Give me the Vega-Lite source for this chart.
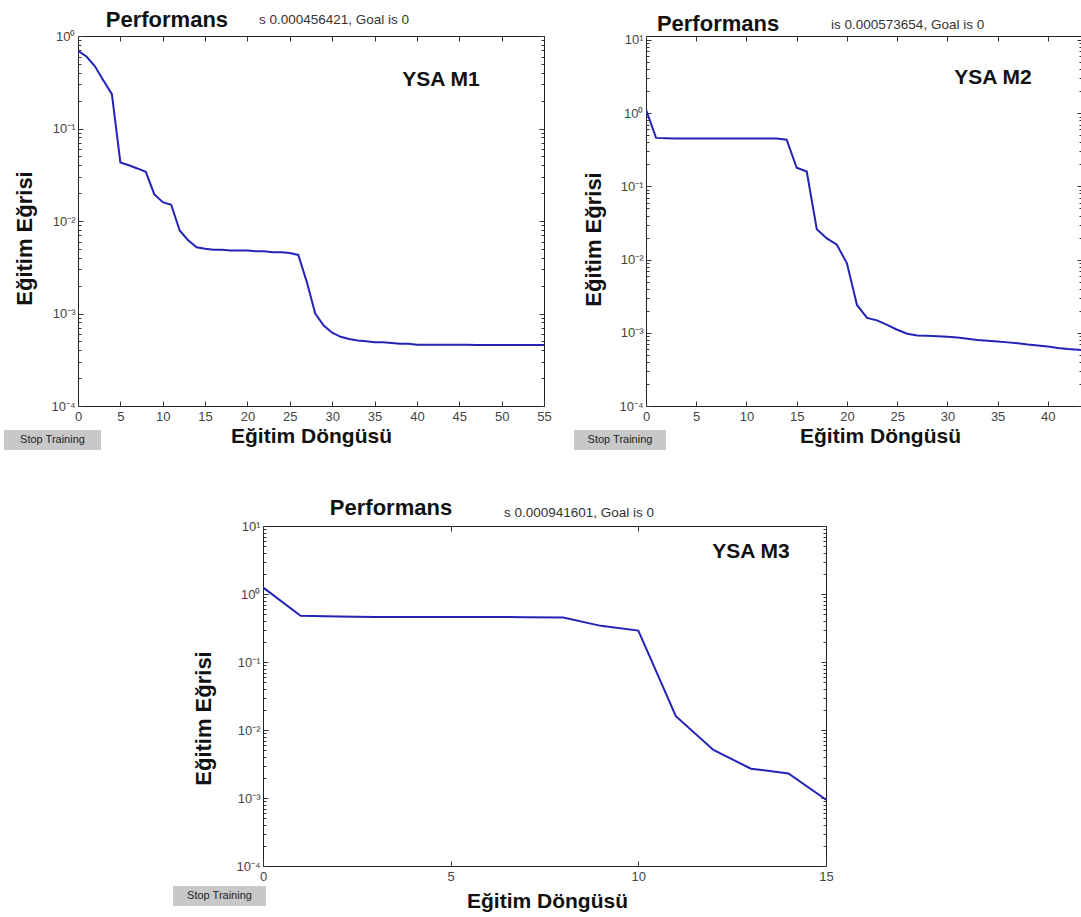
{
  "$schema": "https://vega.github.io/schema/vega-lite/v6.json",
  "background": "white",
  "padding": {"left": 3, "top": 8, "right": 0, "bottom": 0},
  "autosize": {"type": "pad"},
  "bounds": "flush",
  "spacing": 490,
  "config": {
    "view": {"stroke": "#222", "strokeWidth": 1},
    "axis": {"domain": false, "grid": false, "tickColor": "#333", "tickWidth": 1, "labelFont": "Liberation Sans", "labelFontSize": 13, "labelColor": "#444", "labelFlush": false, "labelOverlap": false, "titleFont": "Liberation Sans", "titleFontWeight": "bold", "titleColor": "#111"},
    "text": {"font": "Liberation Sans"}
  },
  "datasets": {
    "p1": [
      {"epoch": 0, "perf": 0.69}, {"epoch": 1, "perf": 0.6}, {"epoch": 2, "perf": 0.47}, {"epoch": 3, "perf": 0.33}, {"epoch": 4, "perf": 0.235},
      {"epoch": 5, "perf": 0.043}, {"epoch": 6, "perf": 0.04}, {"epoch": 7, "perf": 0.037}, {"epoch": 8, "perf": 0.034}, {"epoch": 9, "perf": 0.0195},
      {"epoch": 10, "perf": 0.016}, {"epoch": 11, "perf": 0.015}, {"epoch": 12, "perf": 0.0079}, {"epoch": 13, "perf": 0.0062}, {"epoch": 14, "perf": 0.0052},
      {"epoch": 15, "perf": 0.005}, {"epoch": 16, "perf": 0.0049}, {"epoch": 17, "perf": 0.0049}, {"epoch": 18, "perf": 0.0048}, {"epoch": 19, "perf": 0.0048},
      {"epoch": 20, "perf": 0.0048}, {"epoch": 21, "perf": 0.0047}, {"epoch": 22, "perf": 0.0047}, {"epoch": 23, "perf": 0.0046}, {"epoch": 24, "perf": 0.0046},
      {"epoch": 25, "perf": 0.0045}, {"epoch": 26, "perf": 0.0043}, {"epoch": 27, "perf": 0.0022}, {"epoch": 28, "perf": 0.001}, {"epoch": 29, "perf": 0.00074},
      {"epoch": 30, "perf": 0.00062}, {"epoch": 31, "perf": 0.00056}, {"epoch": 32, "perf": 0.00053}, {"epoch": 33, "perf": 0.00051}, {"epoch": 34, "perf": 0.0005},
      {"epoch": 35, "perf": 0.00049}, {"epoch": 36, "perf": 0.00049}, {"epoch": 37, "perf": 0.00048}, {"epoch": 38, "perf": 0.00047}, {"epoch": 39, "perf": 0.00047},
      {"epoch": 40, "perf": 0.00046}, {"epoch": 41, "perf": 0.00046}, {"epoch": 42, "perf": 0.000459}, {"epoch": 43, "perf": 0.000459}, {"epoch": 44, "perf": 0.000458},
      {"epoch": 45, "perf": 0.000458}, {"epoch": 46, "perf": 0.000458}, {"epoch": 47, "perf": 0.000457}, {"epoch": 48, "perf": 0.000457}, {"epoch": 49, "perf": 0.000457},
      {"epoch": 50, "perf": 0.000457}, {"epoch": 51, "perf": 0.000457}, {"epoch": 52, "perf": 0.000457}, {"epoch": 53, "perf": 0.000456}, {"epoch": 54, "perf": 0.000456},
      {"epoch": 55, "perf": 0.000456421}
    ],
    "p2": [
      {"epoch": 0, "perf": 1.12}, {"epoch": 1, "perf": 0.46}, {"epoch": 2, "perf": 0.455}, {"epoch": 3, "perf": 0.45}, {"epoch": 4, "perf": 0.45},
      {"epoch": 5, "perf": 0.45}, {"epoch": 6, "perf": 0.45}, {"epoch": 7, "perf": 0.45}, {"epoch": 8, "perf": 0.45}, {"epoch": 9, "perf": 0.45},
      {"epoch": 10, "perf": 0.45}, {"epoch": 11, "perf": 0.45}, {"epoch": 12, "perf": 0.45}, {"epoch": 13, "perf": 0.45}, {"epoch": 14, "perf": 0.435},
      {"epoch": 15, "perf": 0.18}, {"epoch": 16, "perf": 0.16}, {"epoch": 17, "perf": 0.026}, {"epoch": 18, "perf": 0.0195}, {"epoch": 19, "perf": 0.016},
      {"epoch": 20, "perf": 0.0089}, {"epoch": 21, "perf": 0.0024}, {"epoch": 22, "perf": 0.0016}, {"epoch": 23, "perf": 0.00148}, {"epoch": 24, "perf": 0.00128},
      {"epoch": 25, "perf": 0.0011}, {"epoch": 26, "perf": 0.00097}, {"epoch": 27, "perf": 0.00092}, {"epoch": 28, "perf": 0.00091}, {"epoch": 29, "perf": 0.0009},
      {"epoch": 30, "perf": 0.00088}, {"epoch": 31, "perf": 0.00086}, {"epoch": 32, "perf": 0.00083}, {"epoch": 33, "perf": 0.0008}, {"epoch": 34, "perf": 0.00078},
      {"epoch": 35, "perf": 0.00076}, {"epoch": 36, "perf": 0.00074}, {"epoch": 37, "perf": 0.00072}, {"epoch": 38, "perf": 0.00069}, {"epoch": 39, "perf": 0.00067},
      {"epoch": 40, "perf": 0.00065}, {"epoch": 41, "perf": 0.00062}, {"epoch": 42, "perf": 0.0006}, {"epoch": 43, "perf": 0.000585}, {"epoch": 44, "perf": 0.000573654}
    ],
    "p3": [
      {"epoch": 0, "perf": 1.25}, {"epoch": 1, "perf": 0.48}, {"epoch": 2, "perf": 0.465}, {"epoch": 3, "perf": 0.46}, {"epoch": 4, "perf": 0.46},
      {"epoch": 5, "perf": 0.46}, {"epoch": 6, "perf": 0.46}, {"epoch": 7, "perf": 0.455}, {"epoch": 8, "perf": 0.45}, {"epoch": 9, "perf": 0.34},
      {"epoch": 10, "perf": 0.29}, {"epoch": 11, "perf": 0.016}, {"epoch": 12, "perf": 0.0051}, {"epoch": 13, "perf": 0.0027}, {"epoch": 14, "perf": 0.0023},
      {"epoch": 15, "perf": 0.000941601}
    ]
  },
  "vconcat": [
    {
      "bounds": "flush",
      "spacing": 102,
      "hconcat": [
        {
          "width": 466, "height": 370,
          "resolve": {"axis": {"x": "independent", "y": "independent"}},
          "layer": [
            {
              "data": {"name": "p1"},
              "mark": {"type": "line", "color": "#2323b8", "strokeWidth": 2, "clip": true},
              "encoding": {
                "x": {"field": "epoch", "type": "quantitative", "scale": {"domain": [0, 55], "nice": false, "zero": false},
                  "axis": {"orient": "bottom", "values": [0, 5, 10, 15, 20, 25, 30, 35, 40, 45, 50, 55], "tickSize": -5, "labelPadding": 9, "title": "Eğitim Döngüsü", "titleFontSize": 21, "titleX": 233, "titleY": 36, "titleBaseline": "alphabetic"}},
                "y": {"field": "perf", "type": "quantitative", "scale": {"type": "log", "domain": [0.0001, 1], "nice": false},
                  "axis": {"orient": "left", "values": [0.0001, 0.001, 0.01, 0.1, 1], "labelExpr": "'10' + (datum.value < 0.0005 ? '⁻⁴' : datum.value < 0.005 ? '⁻³' : datum.value < 0.05 ? '⁻²' : datum.value < 0.5 ? '⁻¹' : datum.value < 5 ? '⁰' : '¹')", "tickSize": -5, "labelPadding": 8, "title": "Eğitim Eğrisi", "titleFontSize": 22, "titleX": -47, "titleY": 202, "titleBaseline": "alphabetic", "titleAngle": 270}}
              }
            },
            {
              "data": {"values": [{"label": "YSA M1"}]},
              "mark": {"type": "text", "fontSize": 21, "fontWeight": "bold", "align": "center", "baseline": "alphabetic", "color": "#111"},
              "encoding": {
                "text": {"field": "label"},
                "x": {"datum": 42.84, "type": "quantitative", "scale": {"domain": [0, 55], "nice": false, "zero": false},
                  "axis": {"orient": "top", "values": [0, 5, 10, 15, 20, 25, 30, 35, 40, 45, 50, 55], "labels": false, "tickSize": -5, "title": null}},
                "y": {"datum": 0.288, "type": "quantitative", "scale": {"type": "log", "domain": [0.0001, 1], "nice": false},
                  "axis": {"orient": "right", "values": [0.0001, 0.001, 0.01, 0.1, 1], "labels": false, "tickSize": -5, "title": null}}
              }
            },
            {
              "data": {"values": [{"label": "Performans"}]},
              "mark": {"type": "text", "fontSize": 22, "fontWeight": "bold", "align": "center", "baseline": "alphabetic", "color": "#111"},
              "encoding": {
                "text": {"field": "label"},
                "x": {"datum": 10.5, "type": "quantitative", "scale": {"domain": [0, 55], "nice": false, "zero": false}, "axis": null},
                "y": {"datum": 1.251, "type": "quantitative", "scale": {"type": "log", "domain": [0.0001, 1], "nice": false},
                  "axis": {"orient": "left", "values": [0.0002, 0.0003, 0.0004, 0.0005, 0.0006, 0.0007, 0.0008, 0.0009, 0.002, 0.003, 0.004, 0.005, 0.006, 0.007, 0.008, 0.009, 0.02, 0.03, 0.04, 0.05, 0.06, 0.07, 0.08, 0.09, 0.2, 0.3, 0.4, 0.5, 0.6, 0.7, 0.8, 0.9], "labels": false, "tickSize": -3, "title": null}}
              }
            },
            {
              "data": {"values": [{"label": "s 0.000456421, Goal is 0"}]},
              "mark": {"type": "text", "fontSize": 13.5, "align": "left", "baseline": "alphabetic", "color": "#333"},
              "encoding": {
                "text": {"field": "label"},
                "x": {"datum": 21.36, "type": "quantitative", "scale": {"domain": [0, 55], "nice": false, "zero": false}, "axis": null},
                "y": {"datum": 1.348, "type": "quantitative", "scale": {"type": "log", "domain": [0.0001, 1], "nice": false},
                  "axis": {"orient": "right", "values": [0.0002, 0.0003, 0.0004, 0.0005, 0.0006, 0.0007, 0.0008, 0.0009, 0.002, 0.003, 0.004, 0.005, 0.006, 0.007, 0.008, 0.009, 0.02, 0.03, 0.04, 0.05, 0.06, 0.07, 0.08, 0.09, 0.2, 0.3, 0.4, 0.5, 0.6, 0.7, 0.8, 0.9], "labels": false, "tickSize": -3, "title": null}}
              }
            },
            {
              "data": {"values": [{"label": "Stop Training"}]},
              "mark": {"type": "rect", "fill": "#c8c8c8"},
              "encoding": {
                "x": {"datum": -8.734, "type": "quantitative", "scale": {"domain": [0, 55], "nice": false, "zero": false}, "axis": null},
                "x2": {"datum": 2.715},
                "y": {"datum": 0.000055, "type": "quantitative", "scale": {"type": "log", "domain": [0.0001, 1], "nice": false}, "axis": null},
                "y2": {"datum": 0.00003344}
              }
            },
            {
              "data": {"values": [{"label": "Stop Training"}]},
              "mark": {"type": "text", "fontSize": 11, "align": "center", "baseline": "middle", "color": "#222"},
              "encoding": {
                "text": {"field": "label"},
                "x": {"datum": -3.01, "type": "quantitative", "scale": {"domain": [0, 55], "nice": false, "zero": false}, "axis": null},
                "y": {"datum": 0.00004289, "type": "quantitative", "scale": {"type": "log", "domain": [0.0001, 1], "nice": false}, "axis": null}
              }
            }
          ]
        },
        {
          "width": 436, "height": 370,
          "resolve": {"axis": {"x": "independent", "y": "independent"}},
          "layer": [
            {
              "data": {"name": "p2"},
              "mark": {"type": "line", "color": "#2323b8", "strokeWidth": 2, "clip": true},
              "encoding": {
                "x": {"field": "epoch", "type": "quantitative", "scale": {"domain": [0, 43.4], "nice": false, "zero": false},
                  "axis": {"orient": "bottom", "values": [0, 5, 10, 15, 20, 25, 30, 35, 40], "tickSize": -5, "labelPadding": 9, "title": "Eğitim Döngüsü", "titleFontSize": 21, "titleX": 234, "titleY": 36, "titleBaseline": "alphabetic"}},
                "y": {"field": "perf", "type": "quantitative", "scale": {"type": "log", "domain": [0.0001, 11.34], "nice": false},
                  "axis": {"orient": "left", "values": [0.0001, 0.001, 0.01, 0.1, 1, 10], "labelExpr": "'10' + (datum.value < 0.0005 ? '⁻⁴' : datum.value < 0.005 ? '⁻³' : datum.value < 0.05 ? '⁻²' : datum.value < 0.5 ? '⁻¹' : datum.value < 5 ? '⁰' : '¹')", "tickSize": -5, "labelPadding": 8, "title": "Eğitim Eğrisi", "titleFontSize": 22, "titleX": -46, "titleY": 203, "titleBaseline": "alphabetic", "titleAngle": 270}}
              }
            },
            {
              "data": {"values": [{"label": "YSA M2"}]},
              "mark": {"type": "text", "fontSize": 21, "fontWeight": "bold", "align": "center", "baseline": "alphabetic", "color": "#111"},
              "encoding": {
                "text": {"field": "label"},
                "x": {"datum": 34.54, "type": "quantitative", "scale": {"domain": [0, 43.4], "nice": false, "zero": false},
                  "axis": {"orient": "top", "values": [0, 5, 10, 15, 20, 25, 30, 35, 40], "labels": false, "tickSize": -5, "title": null}},
                "y": {"datum": 2.506, "type": "quantitative", "scale": {"type": "log", "domain": [0.0001, 11.34], "nice": false},
                  "axis": {"orient": "right", "values": [0.0001, 0.001, 0.01, 0.1, 1, 10], "labels": false, "tickSize": -5, "title": null}}
              }
            },
            {
              "data": {"values": [{"label": "Performans"}]},
              "mark": {"type": "text", "fontSize": 22, "fontWeight": "bold", "align": "center", "baseline": "alphabetic", "color": "#111"},
              "encoding": {
                "text": {"field": "label"},
                "x": {"datum": 7.17, "type": "quantitative", "scale": {"domain": [0, 43.4], "nice": false, "zero": false}, "axis": null},
                "y": {"datum": 13.27, "type": "quantitative", "scale": {"type": "log", "domain": [0.0001, 11.34], "nice": false},
                  "axis": {"orient": "left", "values": [0.0002, 0.0003, 0.0004, 0.0005, 0.0006, 0.0007, 0.0008, 0.0009, 0.002, 0.003, 0.004, 0.005, 0.006, 0.007, 0.008, 0.009, 0.02, 0.03, 0.04, 0.05, 0.06, 0.07, 0.08, 0.09, 0.2, 0.3, 0.4, 0.5, 0.6, 0.7, 0.8, 0.9, 2, 3, 4, 5, 6, 7, 8, 9], "labels": false, "tickSize": -3, "title": null}}
              }
            },
            {
              "data": {"values": [{"label": "is 0.000573654, Goal is 0"}]},
              "mark": {"type": "text", "fontSize": 13.5, "align": "left", "baseline": "alphabetic", "color": "#333"},
              "encoding": {
                "text": {"field": "label"},
                "x": {"datum": 18.42, "type": "quantitative", "scale": {"domain": [0, 43.4], "nice": false, "zero": false}, "axis": null},
                "y": {"datum": 14.13, "type": "quantitative", "scale": {"type": "log", "domain": [0.0001, 11.34], "nice": false},
                  "axis": {"orient": "right", "values": [0.0002, 0.0003, 0.0004, 0.0005, 0.0006, 0.0007, 0.0008, 0.0009, 0.002, 0.003, 0.004, 0.005, 0.006, 0.007, 0.008, 0.009, 0.02, 0.03, 0.04, 0.05, 0.06, 0.07, 0.08, 0.09, 0.2, 0.3, 0.4, 0.5, 0.6, 0.7, 0.8, 0.9, 2, 3, 4, 5, 6, 7, 8, 9], "labels": false, "tickSize": -3, "title": null}}
              }
            },
            {
              "data": {"values": [{"label": "Stop Training"}]},
              "mark": {"type": "rect", "fill": "#c8c8c8"},
              "encoding": {
                "x": {"datum": -7.167, "type": "quantitative", "scale": {"domain": [0, 43.4], "nice": false, "zero": false}, "axis": null},
                "x2": {"datum": 1.991},
                "y": {"datum": 0.000047, "type": "quantitative", "scale": {"type": "log", "domain": [0.0001, 11.34], "nice": false}, "axis": null},
                "y2": {"datum": 0.00002506}
              }
            },
            {
              "data": {"values": [{"label": "Stop Training"}]},
              "mark": {"type": "text", "fontSize": 11, "align": "center", "baseline": "middle", "color": "#222"},
              "encoding": {
                "text": {"field": "label"},
                "x": {"datum": -2.588, "type": "quantitative", "scale": {"domain": [0, 43.4], "nice": false, "zero": false}, "axis": null},
                "y": {"datum": 0.00003433, "type": "quantitative", "scale": {"type": "log", "domain": [0.0001, 11.34], "nice": false}, "axis": null}
              }
            }
          ]
        }
      ]
    },
    {
      "bounds": "flush",
      "spacing": 102,
      "hconcat": [
        {
          "width": 83, "height": 340,
          "data": {"values": []},
          "mark": {"type": "text"},
          "encoding": {},
          "view": {"stroke": null}
        },
        {
          "width": 563, "height": 340,
          "resolve": {"axis": {"x": "independent", "y": "independent"}},
          "layer": [
            {
              "data": {"name": "p3"},
              "mark": {"type": "line", "color": "#2323b8", "strokeWidth": 2, "clip": true},
              "encoding": {
                "x": {"field": "epoch", "type": "quantitative", "scale": {"domain": [0, 15], "nice": false, "zero": false},
                  "axis": {"orient": "bottom", "values": [0, 5, 10, 15], "tickSize": -5, "labelPadding": 9, "title": "Eğitim Döngüsü", "titleFontSize": 21, "titleX": 284, "titleY": 41, "titleBaseline": "alphabetic"}},
                "y": {"field": "perf", "type": "quantitative", "scale": {"type": "log", "domain": [0.0001, 10], "nice": false},
                  "axis": {"orient": "left", "values": [0.0001, 0.001, 0.01, 0.1, 1, 10], "labelExpr": "'10' + (datum.value < 0.0005 ? '⁻⁴' : datum.value < 0.005 ? '⁻³' : datum.value < 0.05 ? '⁻²' : datum.value < 0.5 ? '⁻¹' : datum.value < 5 ? '⁰' : '¹')", "tickSize": -5, "labelPadding": 8, "title": "Eğitim Eğrisi", "titleFontSize": 22, "titleX": -53, "titleY": 192, "titleBaseline": "alphabetic", "titleAngle": 270}}
              }
            },
            {
              "data": {"values": [{"label": "YSA M3"}]},
              "mark": {"type": "text", "fontSize": 21, "fontWeight": "bold", "align": "center", "baseline": "alphabetic", "color": "#111"},
              "encoding": {
                "text": {"field": "label"},
                "x": {"datum": 13.0, "type": "quantitative", "scale": {"domain": [0, 15], "nice": false, "zero": false},
                  "axis": {"orient": "top", "values": [0, 5, 10, 15], "labels": false, "tickSize": -5, "title": null}},
                "y": {"datum": 3.383, "type": "quantitative", "scale": {"type": "log", "domain": [0.0001, 10], "nice": false},
                  "axis": {"orient": "right", "values": [0.0001, 0.001, 0.01, 0.1, 1, 10], "labels": false, "tickSize": -5, "title": null}}
              }
            },
            {
              "data": {"values": [{"label": "Performans"}]},
              "mark": {"type": "text", "fontSize": 22, "fontWeight": "bold", "align": "center", "baseline": "alphabetic", "color": "#111"},
              "encoding": {
                "text": {"field": "label"},
                "x": {"datum": 3.41, "type": "quantitative", "scale": {"domain": [0, 15], "nice": false, "zero": false}, "axis": null},
                "y": {"datum": 14.52, "type": "quantitative", "scale": {"type": "log", "domain": [0.0001, 10], "nice": false},
                  "axis": {"orient": "left", "values": [0.0002, 0.0003, 0.0004, 0.0005, 0.0006, 0.0007, 0.0008, 0.0009, 0.002, 0.003, 0.004, 0.005, 0.006, 0.007, 0.008, 0.009, 0.02, 0.03, 0.04, 0.05, 0.06, 0.07, 0.08, 0.09, 0.2, 0.3, 0.4, 0.5, 0.6, 0.7, 0.8, 0.9, 2, 3, 4, 5, 6, 7, 8, 9], "labels": false, "tickSize": -3, "title": null}}
              }
            },
            {
              "data": {"values": [{"label": "s 0.000941601, Goal is 0"}]},
              "mark": {"type": "text", "fontSize": 13.5, "align": "left", "baseline": "alphabetic", "color": "#333"},
              "encoding": {
                "text": {"field": "label"},
                "x": {"datum": 6.42, "type": "quantitative", "scale": {"domain": [0, 15], "nice": false, "zero": false}, "axis": null},
                "y": {"datum": 13.56, "type": "quantitative", "scale": {"type": "log", "domain": [0.0001, 10], "nice": false},
                  "axis": {"orient": "right", "values": [0.0002, 0.0003, 0.0004, 0.0005, 0.0006, 0.0007, 0.0008, 0.0009, 0.002, 0.003, 0.004, 0.005, 0.006, 0.007, 0.008, 0.009, 0.02, 0.03, 0.04, 0.05, 0.06, 0.07, 0.08, 0.09, 0.2, 0.3, 0.4, 0.5, 0.6, 0.7, 0.8, 0.9, 2, 3, 4, 5, 6, 7, 8, 9], "labels": false, "tickSize": -3, "title": null}}
              }
            },
            {
              "data": {"values": [{"label": "Stop Training"}]},
              "mark": {"type": "rect", "fill": "#c8c8c8"},
              "encoding": {
                "x": {"datum": -2.398, "type": "quantitative", "scale": {"domain": [0, 15], "nice": false, "zero": false}, "axis": null},
                "x2": {"datum": 0.08},
                "y": {"datum": 0.0000508, "type": "quantitative", "scale": {"type": "log", "domain": [0.0001, 10], "nice": false}, "axis": null},
                "y2": {"datum": 0.0000258}
              }
            },
            {
              "data": {"values": [{"label": "Stop Training"}]},
              "mark": {"type": "text", "fontSize": 11, "align": "center", "baseline": "middle", "color": "#222"},
              "encoding": {
                "text": {"field": "label"},
                "x": {"datum": -1.159, "type": "quantitative", "scale": {"domain": [0, 15], "nice": false, "zero": false}, "axis": null},
                "y": {"datum": 0.0000362, "type": "quantitative", "scale": {"type": "log", "domain": [0.0001, 10], "nice": false}, "axis": null}
              }
            }
          ]
        }
      ]
    }
  ]
}
